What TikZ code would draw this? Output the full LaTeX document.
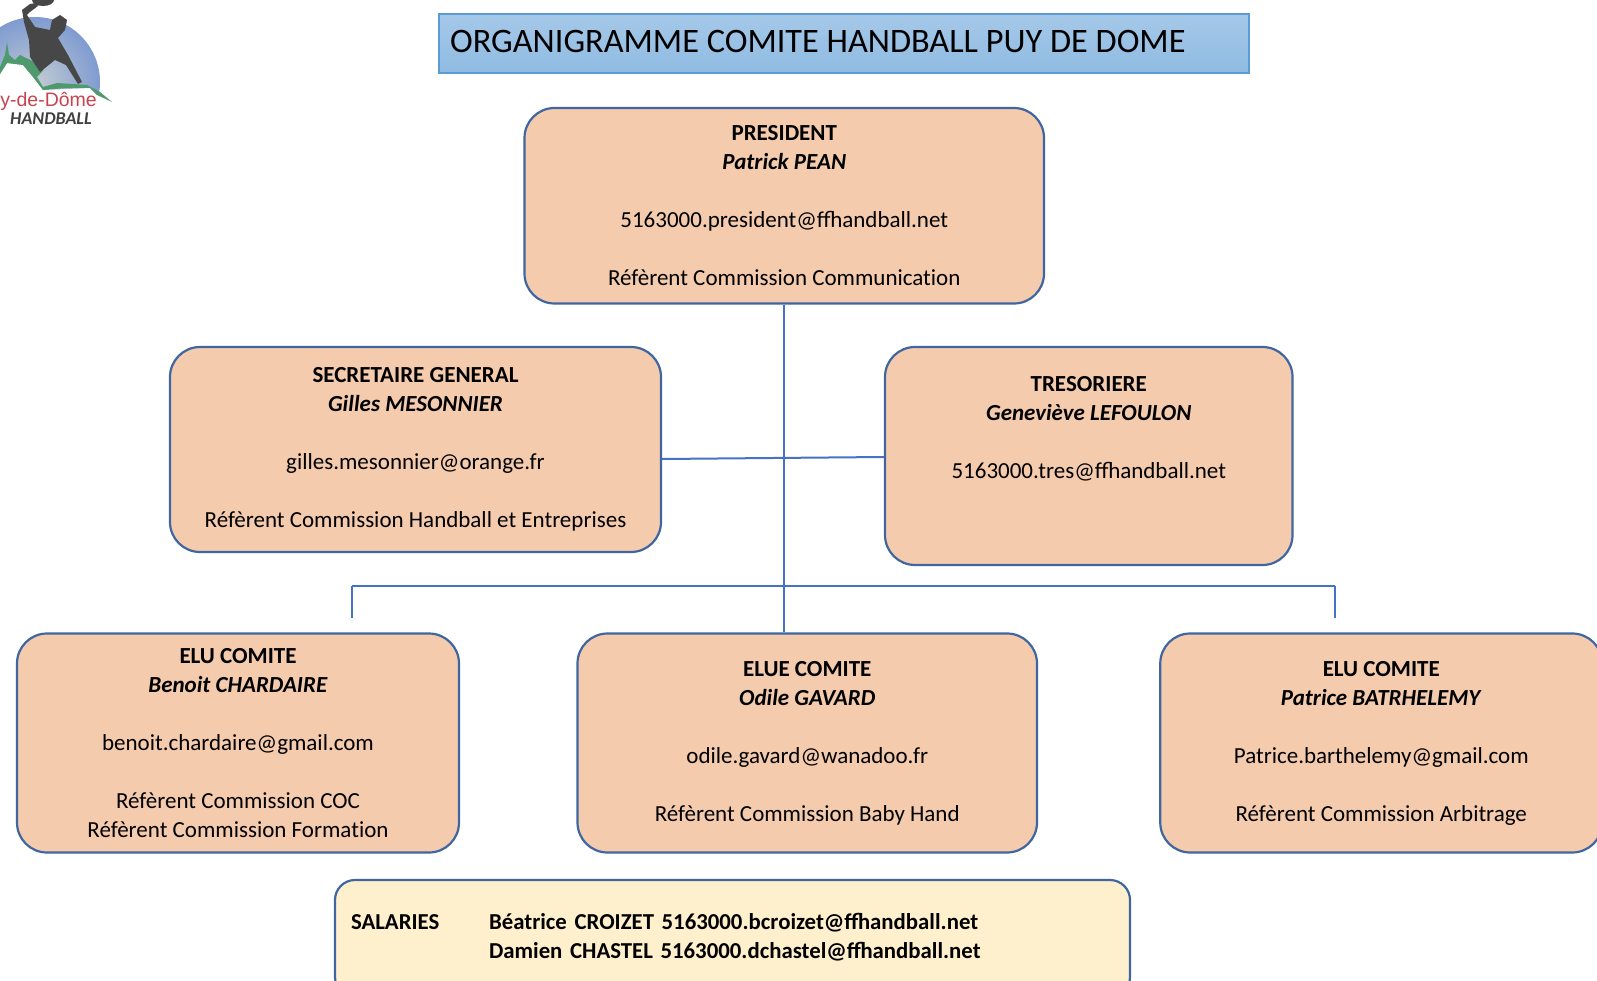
\documentclass[tikz,border=0pt]{standalone}
\usepackage{fontspec}
\setmainfont{Carlito}
\newfontfamily\logofont{Liberation Sans}
\usetikzlibrary{positioning,shapes,fit,calc}
\definecolor{postfill}{HTML}{F5CBAE}
\definecolor{postline}{HTML}{3F66A0}
\definecolor{linkline}{HTML}{4472C4}
\definecolor{staffill}{HTML}{FFF0CD}
\definecolor{titleline}{HTML}{5B9BD5}
\definecolor{logoblue}{HTML}{7F9BD0}
\definecolor{logopale}{HTML}{C4CCD4}
\definecolor{logogreen}{HTML}{4F9A6C}
\definecolor{logored}{HTML}{C8434F}
\tikzset{
  post/.style={draw=postline,line width=2.2pt,fill=postfill,rounded corners=30pt,align=center,inner sep=0pt,
    font=\fontsize{23}{29}\selectfont},
  staff/.style={post,fill=staffill,rounded corners=20pt,align=left,font=\fontsize{22.8}{29}\selectfont},
  banner/.style={draw=titleline,line width=2pt,top color=titleline!55,bottom color=titleline!68,inner sep=0pt},
  link/.style={draw=linkline,line width=2pt}
}
\newcommand{\blank}{\\[29pt]}
\begin{document}
\begin{tikzpicture}[x=1pt,y=1pt,node distance=100pt,on grid]
   \useasboundingbox (0,0) rectangle (1597,-981);

   \begin{scope}
   \clip (-40,0) -- (110,0) -- (110,-95) -- (97,-95) -- (90,-88) -- (43,-90) -- (33,-77) -- (23,-65) -- (7,-63) -- (0,-74) -- (-40,-74) -- cycle;
   \shade[inner color=logopale,outer color=logoblue] (35,-82) circle (65);
   \end{scope}
   \fill[logogreen] (0,-67) -- (5,-55) -- (7,-42) -- (9,-55) -- (15,-60) -- (20,-55) -- (45,-67) -- (42,-72) -- (37,-77) -- (43,-87)
      -- (57,-83) -- (87,-85) -- (100,-92) -- (112,-102) -- (97,-95) -- (90,-88) -- (67,-88) -- (43,-90) -- (33,-77) -- (23,-65) -- (7,-63) -- (0,-74) -- cycle;
   \fill[black!72] (22,-10) -- (30,-4) -- (36,-3) -- (38,-6) -- (30,-12) -- (27,-15) -- (35,-27) -- (50,-30) -- (52,-20)
      -- (60,-15) -- (67,-20) -- (65,-30) -- (58,-38) -- (68,-55) -- (82,-82) -- (78,-84) -- (66,-65)
      -- (55,-60) -- (45,-68) -- (40,-72) -- (30,-57) -- (29,-40) -- (24,-22) -- cycle;
   \fill[black!72] (43,0) ellipse (11 and 6);
   \node[anchor=base east,inner sep=0pt,text=logored,font=\logofont\fontsize{19.5}{20}\selectfont] (LOGOa) at (97,-107) {y-de-D\^ome};
   \node[anchor=base west,inner sep=0pt,text=black!75,font=\fontsize{18}{18}\selectfont\itshape\bfseries] (LOGOb) at (10,-125) {HANDBALL};

   \node[banner,minimum width=810pt,minimum height=59pt,anchor=north west] (TITLE) at (438,-13) {};
   \node[anchor=west,inner sep=0pt,font=\fontsize{34.3}{40}\selectfont] (TITLEt) at (450,-41.5) {ORGANIGRAMME COMITE HANDBALL PUY DE DOME};

   \node[post,minimum width=519.5pt,minimum height=195.5pt] (PR) at (784.25,-205.75)
     {\textbf{PRESIDENT}\\\textbf{\textit{Patrick PEAN}}\blank 5163000.president@ffhandball.net\blank R\'ef\`erent Commission Communicat\kern0pt ion};

   \node[post,minimum width=491pt,minimum height=205pt] (SG) [below left=243.75pt and 368.75pt of PR]
     {\textbf{SECRETAIRE GENERAL}\\\textbf{\textit{Gilles MESONNIER}}\blank gilles.mesonnier@orange.fr\blank R\'ef\`erent Commission Handball et Entreprises};
   \node[post,minimum width=407.5pt,minimum height=218pt] (TR) [below right=250.25pt and 304.5pt of PR]
     {\textbf{TRESORIERE}\\\textbf{\textit{Genevi\`eve LEFOULON}}\blank 5163000.tres@ffhandball.net\blank \mbox{}};

   \node[post,minimum width=459.5pt,minimum height=219pt] (E2) [below right=537.25pt and 23pt of PR]
     {\textbf{ELUE COMITE}\\\textbf{\textit{Odile GAVARD}}\blank odile.gavard@wanadoo.fr\blank R\'ef\`erent Commission Baby Hand};
   \node[post,minimum width=442pt,minimum height=219pt] (E1) [left=569.25pt of E2]
     {\textbf{ELU COMITE}\\\textbf{\textit{Benoit CHARDAIRE}}\blank benoit.chardaire@gmail.com\blank R\'ef\`erent Commission COC\\R\'ef\`erent Commission Format\kern0pt ion};
   \node[post,minimum width=442pt,minimum height=219pt] (E3) [right=574pt of E2]
     {\textbf{ELU COMITE}\\\textbf{\textit{Patrice BATRHELEMY}}\blank Patrice.barthelemy@gmail.com\blank R\'ef\`erent Commission Arbitrage};

   \node[staff,minimum width=795pt,minimum height=117pt,text width=763pt] (SA) at (732.5,-938.5)
     {\bfseries\begin{tabular}{@{}p{138pt}@{}l@{}}SALARIES&B\'eatrice CROIZET 5163000.bcroizet@ffhandball.net\\&Damien CHASTEL 5163000.dchastel@ffhandball.net\end{tabular}};

   \coordinate (BL) at (352,-618);
   \coordinate (BR) at (1335,-618);

   \path[link]
   (PR.south) edge (PR.south |- E2.north)
   ([yshift=-9.5pt]SG.east) edge ([yshift=-1pt]TR.west)
   (BL) edge ++(0,32)
   (BR) edge ++(0,32);
   \draw[link] ([yshift=32pt]BL) -- ([yshift=32pt]BR);
\end{tikzpicture}
\end{document}
